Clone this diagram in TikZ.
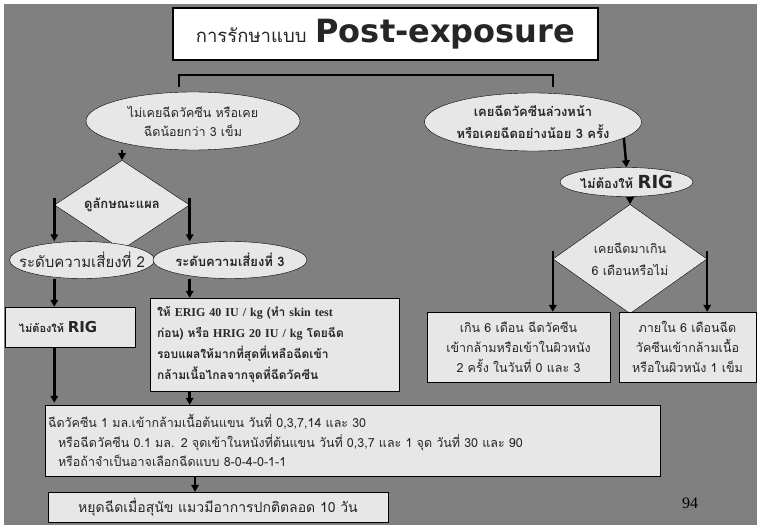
\documentclass[tikz,border=0pt]{standalone}
\usepackage{fontspec}
\setmainfont[Script=Thai]{Loma}
\newfontfamily\rigfont{DejaVu Sans}
\newfontfamily\timesfont{Liberation Serif}
\usetikzlibrary{shapes.geometric,arrows.meta}
\definecolor{slidegray}{RGB}{128,128,128}
\definecolor{boxgray}{RGB}{231,231,231}
\newcommand{\engl}[1]{{\timesfont\bfseries #1}}
\newcommand{\rig}[1]{{\rigfont\bfseries\fontsize{#1}{#1}\selectfont RIG}}

\begin{document}
\begin{tikzpicture}[
    x=1pt, y=-1pt,
    oval/.style={ellipse, draw, fill=boxgray, inner sep=0pt, align=center, text=black!85},
    choice/.style={diamond, draw, fill=boxgray, inner sep=0pt, align=center, text=black!85},
    card/.style={rectangle, draw, fill=boxgray, inner sep=0pt, align=center, text=black!85},
    flow/.style={-{Triangle[length=7pt,width=7.5pt]}, line width=2.5pt},
    branch/.style={line width=1.6pt}
]

% Slide background
\useasboundingbox (0,0) rectangle (763,529);
\fill[white] (0,0) rectangle (763,529);
\fill[slidegray] (4,4) rectangle (757,525);

% Title
\node[card, fill=white, line width=2pt, minimum width=425pt, minimum height=52pt] (title) at (385.5,34)
    {{\fontsize{18.5}{24}\selectfont การรักษาแบบ}\hspace{9pt}{\rigfont\bfseries\fontsize{32}{36}\selectfont Post-exposure}};

% Two starting groups
\node[oval, minimum width=214pt, minimum height=58pt, font=\fontsize{12.5}{19}\selectfont] (never) at (193,121)
    {ไม่เคยฉีดวัคซีน หรือเคย\\ฉีดน้อยกว่า 3 เข็ม};
\node[oval, minimum width=217pt, minimum height=58pt, font=\fontsize{13}{22}\selectfont\bfseries] (before) at (533,122)
    {เคยฉีดวัคซีนล่วงหน้า\\หรือเคยฉีดอย่างน้อย 3 ครั้ง};

\coordinate (bl) at (179,87);
\coordinate (br) at (553,87);
\draw[branch] (bl) -- ++(0,-12) -| (br);

% Right branch
\node[oval, minimum width=133pt, minimum height=29pt, font=\fontsize{13}{16}\selectfont\bfseries] (norig) at (626.5,182)
    {ไม่ต้องให้ \rig{18}};
\node[choice, minimum width=154pt, minimum height=78pt, font=\fontsize{12.5}{22}\selectfont] (sixmonth) at (630,259)
    {เคยฉีดมาเกิน\\6 เดือนหรือไม่};
\node[card, minimum width=183pt, minimum height=70pt, font=\fontsize{12.5}{20}\selectfont] (over) at (518.5,347)
    {เกิน 6 เดือน ฉีดวัคซีน\\เข้ากล้ามหรือเข้าในผิวหนัง\\2 ครั้ง ในวันที่ 0 และ 3};
\node[card, minimum width=137pt, minimum height=70pt, font=\fontsize{12.5}{20}\selectfont] (within) at (687.5,347)
    {ภายใน 6 เดือนฉีด\\วัคซีนเข้ากล้ามเนื้อ\\หรือในผิวหนัง 1 เข็ม};

% Left branch
\node[choice, minimum width=135pt, minimum height=76pt, font=\fontsize{13}{16}\selectfont\bfseries] (wound) at (122,205)
    {ดูลักษณะแผล};
\node[oval, minimum width=145pt, minimum height=37pt, inner xsep=-18pt, font=\fontsize{15}{18}\selectfont] (risktwo) at (82,260)
    {ระดับความเสี่ยงที่ 2};
\node[oval, minimum width=154pt, minimum height=37pt, inner xsep=-10pt, font=\fontsize{13}{16}\selectfont\bfseries] (riskthree) at (230,260)
    {ระดับความเสี่ยงที่ 3};
\node[card, minimum width=130pt, minimum height=40pt, text width=102pt, inner xsep=14pt, align=left,
      font=\fontsize{11}{14}\selectfont\bfseries] (noriglow) at (70,327)
    {ไม่ต้องให้ \rig{15}};
\node[card, minimum width=249pt, minimum height=93pt, text width=235pt, inner xsep=7pt, align=left,
      font=\fontsize{12}{21}\selectfont\bfseries] (erig) at (274.5,344.5)
    {ให้ \engl{ERIG 40 IU / kg} (ทำ \engl{skin test}\\ก่อน) หรือ \engl{HRIG 20 IU / kg} โดยฉีด\\รอบแผลให้มากที่สุดที่เหลือฉีดเข้า\\กล้ามเนื้อไกลจากจุดที่ฉีดวัคซีน};

% Vaccine schedule
\node[card, minimum width=615pt, minimum height=71pt, text width=609pt, inner xsep=3pt, align=left,
      font=\fontsize{12.5}{19.5}\selectfont] (schedule) at (352.5,440.5)
    {ฉีดวัคซีน 1 มล.เข้ากล้ามเนื้อต้นแขน วันที่ 0,3,7,14 และ 30\\
     \hspace*{10pt}หรือฉีดวัคซีน 0.1 มล. 2 จุดเข้าในหนังที่ต้นแขน วันที่ 0,3,7 และ 1 จุด วันที่ 30 และ 90\\
     \hspace*{10pt}หรือถ้าจำเป็นอาจเลือกฉีดแบบ 8-0-4-0-1-1};
\node[card, minimum width=340pt, minimum height=30pt, font=\fontsize{14}{16}\selectfont] (stop) at (218,507)
    {หยุดฉีดเมื่อสุนัข แมวมีอาการปกติตลอด 10 วัน};

\node[font=\timesfont\fontsize{16}{18}\selectfont] (page) at (690,503) {94};

% Arrows
\draw[flow] (wound.north |- never.south) -- (wound.north);
\draw[flow] ([yshift=7pt]wound.west) -- (wound.west |- risktwo.north);
\draw[flow] ([yshift=7pt]wound.east) -- (wound.east |- riskthree.north);
\draw[flow] (wound.west |- risktwo.south) -- (wound.west |- noriglow.north);
\draw[flow] (wound.east |- riskthree.south) -- (wound.east |- erig.north);
\draw[flow] (wound.west |- noriglow.south) -- ([yshift=2pt]wound.west |- schedule.north);
\draw[flow] (wound.east |- erig.south) -- (wound.east |- schedule.north);
\draw[flow] ([xshift=-23pt]stop.north |- schedule.south) -- ([xshift=-23pt]stop.north);

\draw[flow] (before.-10) -- (norig.north);
\draw[flow] (sixmonth.north |- norig.south) -- (sixmonth.north);
\draw[flow] ([yshift=8pt]sixmonth.west) -- (sixmonth.west |- over.north);
\draw[flow] ([yshift=8pt]sixmonth.east) -- (sixmonth.east |- within.north);

\end{tikzpicture}
\end{document}
